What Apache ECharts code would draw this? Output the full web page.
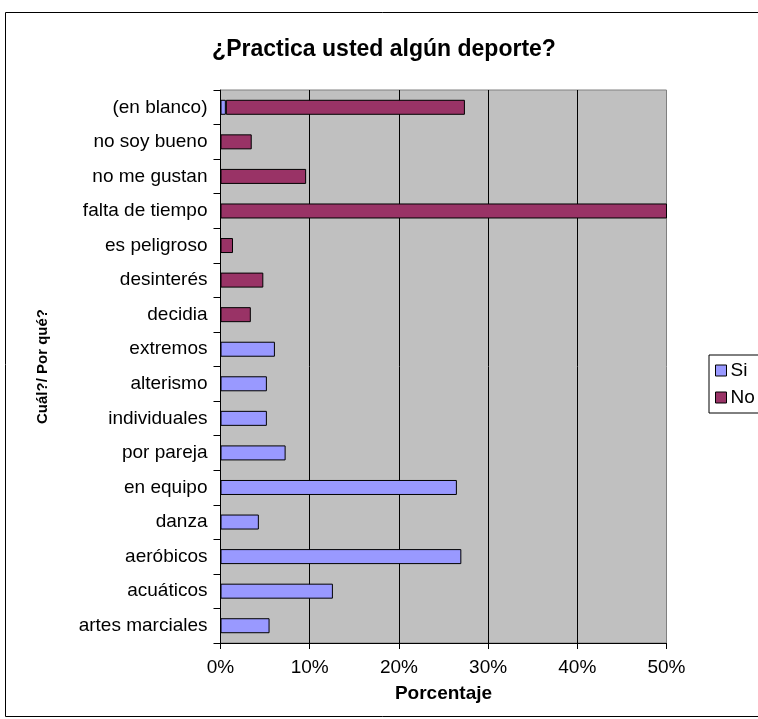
<!DOCTYPE html>
<html>
<head>
<meta charset="utf-8">
<script src="https://cdn.jsdelivr.net/npm/echarts@6/dist/echarts.min.js"></script>
<style>
  html, body { margin: 0; padding: 0; background: #ffffff; }
  #chart { width: 758px; height: 719px; }
</style>
</head>
<body>
<div id="chart"></div>
<script>
// Categories listed bottom to top (category axis starts at the bottom)
const categories = [
  'artes marciales', 'acuáticos', 'aeróbicos', 'danza', 'en equipo',
  'por pareja', 'individuales', 'alterismo', 'extremos', 'decidia',
  'desinterés', 'es peligroso', 'falta de tiempo', 'no me gustan',
  'no soy bueno', '(en blanco)'
];
// Percentages answering "Si" (which sport) and "No" (why not)
const siValues = [5.5, 12.6, 27.0, 4.3, 26.5, 7.3, 5.2, 5.2, 6.1, '-', '-', '-', '-', '-', '-', 0.6];
const noValues = ['-', '-', '-', '-', '-', '-', '-', '-', '-', 3.4, 4.8, 1.4, 52.0, 9.6, 3.5, 26.8];
const xTicks = [0, 10, 20, 30, 40, 50];

const chart = echarts.init(document.getElementById('chart'), null, { renderer: 'canvas' });

const font = 'Liberation Sans, Arial, sans-serif';

chart.setOption({
  animation: false,
  backgroundColor: '#ffffff',
  textStyle: { fontFamily: font, color: '#000' },
  title: {
    text: '¿Practica usted algún deporte?',
    left: 379,
    textAlign: 'center',
    top: 33,
    textStyle: { fontFamily: font, fontSize: 23, fontWeight: 'bold', color: '#000' }
  },
  graphic: [{
    type: 'rect',
    silent: true,
    z: -1,
    shape: { x: 5.5, y: 12.5, width: 800, height: 704 },
    style: { fill: 'none', stroke: '#000', lineWidth: 1 }
  }],
  legend: {
    orient: 'vertical',
    left: 709,
    top: 355,
    padding: [6, 6, 6, 6],
    itemGap: 8,
    itemWidth: 11,
    itemHeight: 11,
    icon: 'rect',
    borderColor: '#000',
    borderWidth: 1,
    itemStyle: { borderColor: '#000', borderWidth: 1 },
    textStyle: { fontFamily: font, fontSize: 19, color: '#000', padding: [0, 0, 0, -1] },
    data: ['Si', 'No']
  },
  grid: {
    left: 220.5,
    right: 91.5,
    top: 90,
    bottom: 76,
    show: true,
    backgroundColor: '#c0c0c0',
    borderColor: '#808080',
    borderWidth: 1
  },
  xAxis: {
    type: 'value',
    min: xTicks[0],
    max: xTicks[xTicks.length - 1],
    interval: xTicks[1] - xTicks[0],
    name: 'Porcentaje',
    nameLocation: 'middle',
    nameGap: 41,
    nameTextStyle: { fontFamily: font, fontSize: 19, fontWeight: 'bold', color: '#000' },
    axisLine: { show: true, lineStyle: { color: '#000', width: 1 } },
    axisTick: { show: true, length: 6, lineStyle: { color: '#000' } },
    axisLabel: {
      margin: 15,
      fontFamily: font,
      fontSize: 19,
      color: '#000',
      formatter: v => v + '%'
    },
    splitLine: { show: true, showMaxLine: false, lineStyle: { color: '#000', width: 1 } }
  },
  yAxis: {
    type: 'category',
    data: categories,
    name: 'Cuál?/ Por qué?',
    nameLocation: 'middle',
    nameRotate: 90,
    nameGap: 170,
    nameTextStyle: { fontFamily: font, fontSize: 15, fontWeight: 'bold', color: '#000' },
    axisLine: { show: true, lineStyle: { color: '#000', width: 1 } },
    axisTick: { show: true, length: 7, lineStyle: { color: '#000' } },
    axisLabel: { margin: 13, fontFamily: font, fontSize: 19, color: '#000' },
    splitLine: { show: false }
  },
  series: [
    {
      name: 'Si',
      type: 'bar',
      stack: 'total',
      barWidth: 15,
      clip: true,
      data: siValues,
      itemStyle: { color: '#9999ff', borderColor: '#000', borderWidth: 1 }
    },
    {
      name: 'No',
      type: 'bar',
      stack: 'total',
      barWidth: 15,
      clip: true,
      data: noValues,
      itemStyle: { color: '#993366', borderColor: '#000', borderWidth: 1 }
    }
  ]
});
</script>
</body>
</html>
